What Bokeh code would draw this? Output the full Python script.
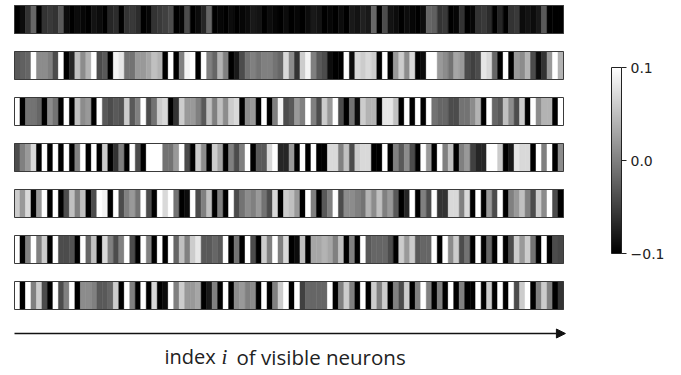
from bokeh.plotting import figure
from bokeh.models import (ColumnDataSource, LinearColorMapper, ColorBar, FixedTicker,
                          CustomJSTickFormatter, Arrow, NormalHead, Label, Range1d)
from bokeh.embed import file_html
from bokeh.resources import INLINE

# ---- data: weights of 7 hidden units over 100 visible neurons (range -0.1 .. 0.1) ----
row1 = [-0.10, -0.09, -0.06, -0.02, -0.10, -0.06, -0.055, -0.06, -0.03, -0.09,
        -0.10, -0.09, -0.095, -0.10, -0.085, -0.09, -0.10, -0.07, -0.065, -0.10,
        -0.06, -0.055, -0.065, -0.10, -0.095, -0.06, -0.055, -0.05, -0.04, -0.10,
        -0.095, -0.04, -0.10, -0.09, -0.07, -0.02, -0.10, -0.095, -0.10, -0.09,
        -0.10, -0.095, -0.09, -0.08, -0.085, -0.10, -0.09, -0.095, -0.10, -0.09,
        -0.10, -0.095, -0.10, -0.09, -0.08, -0.085, -0.10, -0.095, -0.10, -0.09,
        -0.10, -0.08, -0.085, -0.075, -0.08, -0.02, -0.10, -0.04, -0.085, -0.09,
        -0.10, -0.09, -0.095, -0.10, -0.09, -0.02, -0.025, -0.06, -0.055, -0.10,
        -0.095, -0.06, -0.10, -0.095, -0.06, -0.055, -0.065, -0.10, -0.07, -0.10,
        -0.06, -0.055, -0.09, -0.085, -0.09, -0.08, -0.03, -0.10, -0.10, -0.10]
row2 = [-0.03, -0.024, -0.02, 0.10, 0.01, 0.01, 0.0, -0.04, 0.10, -0.10,
        -0.07, 0.05, 0.01, 0.04, 0.10, -0.04, -0.03, -0.10, 0.09, 0.08,
        -0.01, -0.01, 0.02, 0.02, 0.03, 0.05, 0.04, -0.10, 0.10, -0.10,
        0.0, 0.09, 0.10, -0.10, 0.10, 0.0, -0.02, 0.04, 0.0, -0.10,
        -0.08, -0.04, -0.01, 0.0, -0.01, 0.0, 0.0, -0.01, -0.02, 0.07,
        0.01, -0.06, 0.06, 0.09, 0.0, -0.03, -0.04, -0.09, -0.10, -0.10,
        0.10, -0.09, 0.07, 0.06, 0.07, 0.06, -0.10, 0.10, -0.10, 0.02,
        0.06, 0.01, 0.07, -0.10, -0.09, 0.10, 0.10, 0.02, 0.01, -0.01,
        0.03, 0.02, -0.04, -0.05, -0.04, 0.08, 0.07, -0.02, -0.10, 0.10,
        -0.10, 0.02, 0.01, 0.04, -0.04, -0.09, -0.06, 0.02, 0.10, 0.04]
row3 = [0.10, -0.10, -0.01, -0.01, -0.02, -0.10, 0.01, -0.01, -0.10, 0.10,
        -0.10, 0.05, 0.01, 0.02, -0.10, 0.10, -0.03, -0.04, -0.03, -0.035,
        0.06, -0.03, 0.0, 0.10, -0.04, -0.01, 0.06, 0.07, -0.10, -0.06,
        0.06, 0.02, 0.02, 0.0, -0.03, 0.05, 0.0, 0.05, 0.01, 0.06,
        0.07, -0.10, 0.01, 0.02, -0.10, 0.10, -0.10, 0.0, 0.09, -0.04,
        -0.03, 0.02, 0.0, 0.10, 0.0, -0.04, 0.06, 0.02, 0.10, -0.04,
        -0.10, -0.01, -0.09, 0.06, 0.04, 0.04, -0.10, 0.08, 0.08, 0.05,
        -0.10, 0.10, -0.10, 0.10, -0.10, 0.10, -0.01, -0.02, -0.02, -0.04,
        -0.04, -0.01, -0.01, 0.01, 0.04, -0.10, 0.10, -0.02, -0.03, 0.05,
        0.01, -0.04, 0.06, -0.10, 0.10, 0.01, 0.04, 0.04, -0.10, 0.10]
row4 = [-0.04, 0.0, 0.02, 0.07, -0.10, 0.10, -0.10, 0.10, -0.10, 0.10,
        -0.10, 0.0, 0.10, -0.10, 0.10, -0.10, 0.06, -0.10, -0.06, 0.0,
        -0.10, 0.10, -0.04, -0.10, 0.10, 0.10, 0.10, -0.01, -0.01, 0.02,
        0.10, -0.04, -0.10, 0.06, 0.01, -0.10, 0.06, 0.03, -0.10, 0.0,
        -0.04, 0.0, 0.10, -0.10, -0.03, -0.03, 0.07, 0.10, -0.07, -0.07,
        0.02, -0.10, 0.10, -0.10, 0.10, -0.10, -0.10, 0.07, 0.07, 0.0,
        0.05, -0.04, 0.06, 0.07, 0.07, -0.10, -0.10, 0.10, -0.10, 0.0,
        -0.03, 0.01, -0.04, -0.10, 0.10, 0.02, -0.10, 0.10, 0.0, 0.05,
        -0.10, 0.0, 0.02, -0.05, -0.07, -0.07, 0.10, 0.10, 0.06, -0.10,
        -0.08, 0.08, 0.07, 0.07, -0.10, 0.10, 0.0, 0.10, -0.10, 0.01]
row5 = [0.06, 0.02, 0.07, -0.10, 0.02, 0.10, -0.10, 0.10, -0.10, -0.04,
        0.05, 0.0, 0.05, -0.10, -0.04, 0.10, 0.09, -0.10, 0.10, -0.04,
        0.0, 0.02, -0.01, 0.10, -0.04, -0.10, 0.10, 0.07, 0.10, -0.01,
        -0.10, -0.09, 0.10, -0.04, 0.0, 0.05, -0.10, 0.0, -0.10, 0.10,
        -0.04, -0.01, 0.01, 0.0, 0.02, -0.01, -0.04, 0.07, -0.10, 0.06,
        0.05, 0.02, -0.10, 0.10, 0.0, -0.10, -0.03, 0.0, 0.10, -0.04,
        0.01, 0.01, 0.0, -0.01, 0.04, 0.01, 0.05, 0.0, 0.02, -0.03,
        -0.10, -0.07, 0.10, -0.10, 0.0, -0.04, 0.10, -0.06, -0.06, 0.07,
        0.07, 0.0, 0.07, -0.10, 0.10, -0.10, 0.02, -0.04, 0.10, -0.10,
        0.0, 0.02, 0.05, 0.0, -0.04, 0.06, 0.01, 0.10, -0.04, -0.10]
row6 = [0.10, -0.10, 0.0, 0.10, 0.0, 0.06, -0.10, 0.10, -0.04, -0.04,
        -0.035, -0.10, 0.10, -0.02, 0.05, -0.10, 0.07, 0.0, -0.04, 0.0,
        0.10, -0.04, -0.10, 0.10, 0.0, -0.10, 0.10, -0.10, 0.10, -0.02,
        0.05, 0.0, 0.06, 0.08, -0.03, -0.03, -0.02, -0.03, 0.10, -0.10,
        -0.01, -0.10, 0.10, -0.04, -0.10, 0.06, 0.0, 0.10, 0.0, 0.07,
        -0.10, -0.09, 0.05, -0.10, 0.03, 0.03, 0.04, 0.03, 0.0, 0.05,
        -0.10, 0.0, -0.10, 0.10, -0.03, -0.02, -0.02, -0.02, -0.04, -0.10,
        0.06, 0.02, 0.06, -0.03, -0.02, -0.02, 0.10, -0.10, 0.10, 0.01,
        0.06, -0.04, -0.01, -0.10, 0.10, -0.10, -0.02, -0.10, 0.10, -0.10,
        -0.04, 0.06, 0.02, 0.06, -0.01, -0.10, 0.10, -0.10, -0.04, -0.045]
row7 = [0.10, -0.10, 0.10, 0.0, 0.06, -0.04, -0.10, 0.10, -0.04, 0.0,
        0.10, -0.10, 0.01, 0.01, 0.0, -0.03, -0.03, -0.02, 0.06, -0.10,
        0.10, 0.0, -0.10, 0.10, -0.10, 0.07, -0.10, -0.09, 0.10, 0.0,
        0.06, 0.02, 0.02, 0.03, -0.10, -0.08, 0.0, -0.10, 0.10, -0.10,
        0.01, 0.02, 0.0, 0.01, -0.10, 0.10, -0.10, 0.0, 0.06, 0.10,
        -0.10, 0.10, -0.05, -0.02, -0.02, -0.02, -0.02, 0.10, -0.10, 0.0,
        0.06, 0.0, -0.10, 0.10, -0.10, 0.06, 0.0, 0.06, -0.10, 0.0,
        -0.04, 0.06, -0.10, 0.0, 0.10, 0.0, -0.10, 0.0, -0.10, 0.10,
        -0.10, 0.0, -0.10, -0.10, 0.10, -0.10, 0.06, -0.10, 0.10, -0.10,
        0.10, -0.04, 0.06, 0.10, -0.10, 0.0, 0.06, 0.0, -0.10, -0.06]

rows = [row1, row2, row3, row4, row5, row6, row7]
v_min, v_max = -0.1, 0.1
cbar_ticks = [-0.1, 0.0, 0.1]
axis_text = ["index", "i", "of visible neurons"]

# ---- layout (pixels) ----
W, H = 681, 375
left_px, cell_px = 14, 5.49
top_px, row_px, strip_px = 19, 46.0, 28

n_cells = len(rows[0])
half = strip_px / row_px / 2

l, r, t, b, v = [], [], [], [], []
for ri, row in enumerate(rows):
    for ci, val in enumerate(row):
        l.append(ci); r.append(ci + 1)
        t.append(ri - half); b.append(ri + half)
        v.append(val)
src = ColumnDataSource(dict(l=l, r=r, t=t, b=b, v=v))

gray = ["#%02x%02x%02x" % (i, i, i) for i in range(256)]
mapper = LinearColorMapper(palette=gray, low=v_min, high=v_max)

p = figure(width=W, height=H, output_backend="svg", toolbar_location=None,
           x_range=Range1d(-left_px / cell_px, (W - left_px) / cell_px),
           y_range=Range1d((H - top_px) / row_px, -top_px / row_px),
           x_axis_location=None, y_axis_location=None, min_border=0)
p.grid.visible = False
p.outline_line_color = None
p.background_fill_color = "white"
p.border_fill_color = "white"

p.quad(left="l", right="r", top="t", bottom="b", source=src,
       fill_color={"field": "v", "transform": mapper},
       line_color={"field": "v", "transform": mapper}, line_width=0.5)

ridx = list(range(len(rows)))
p.quad(left=[0] * len(rows), right=[n_cells] * len(rows),
       top=[i - half for i in ridx], bottom=[i + half for i in ridx],
       fill_color=None, line_color="#3a3a3a", line_width=1)

cb = ColorBar(color_mapper=mapper, ticker=FixedTicker(ticks=cbar_ticks),
              formatter=CustomJSTickFormatter(code="return tick.toFixed(1).replace('-', '\u2212')"),
              orientation="vertical", width=10, height=186, location=(611, 122),
              padding=0, major_tick_in=0, major_tick_out=5,
              major_tick_line_color="#222222", minor_tick_line_color=None,
              bar_line_color="#222222", bar_line_width=1,
              major_label_text_font="DejaVu Sans", major_label_text_font_size="14px",
              major_label_text_color="#222222", label_standoff=4,
              background_fill_alpha=0, border_line_color=None)
p.add_layout(cb)

y_arrow = len(rows) - 1 + (333 - 295) / row_px
p.add_layout(Arrow(end=NormalHead(size=9, fill_color="#111111", line_color="#111111"),
                   x_start=0, x_end=n_cells + 0.35, y_start=y_arrow, y_end=y_arrow,
                   line_color="#111111", line_width=1.4))

label_y = H - 356
p.add_layout(Label(x=164, y=label_y, x_units="screen", y_units="screen", text=axis_text[0],
                   text_font="Open Sans", text_font_size="20px", text_color="#222222",
                   text_baseline="middle"))
p.add_layout(Label(x=221, y=label_y, x_units="screen", y_units="screen", text=axis_text[1],
                   text_font="Liberation Serif", text_font_style="italic",
                   text_font_size="21px", text_color="#222222", text_baseline="middle"))
p.add_layout(Label(x=236, y=label_y, x_units="screen", y_units="screen", text=axis_text[2],
                   text_font="Open Sans", text_font_size="20.5px", text_color="#222222",
                   text_baseline="middle"))

open("out.html", "w").write(file_html(p, INLINE))
